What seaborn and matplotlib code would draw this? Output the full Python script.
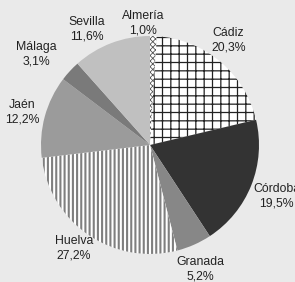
import numpy as np
import matplotlib
matplotlib.use("Agg")
import matplotlib.pyplot as plt
import seaborn as sns

provincias = ["Almería", "Cádiz", "Córdoba", "Granada", "Huelva", "Jaén", "Málaga", "Sevilla"]
porcentajes = [1.0, 20.3, 19.5, 5.2, 27.2, 12.2, 3.1, 11.6]

colores = ["white", "white", "#333333", "#878787", "white", "#9b9b9b", "#7a7a7a", "#c0c0c0"]
tramas = ["xxxxxx", "++", None, None, "||||", None, None, None]
color_trama = ["#555555", "#222222", None, None, "#7f7f7f", None, None, None]
grosor_trama = [0.6, 0.9, 0, 0, 1.5, 0, 0, 0]
# posición de las etiquetas (en radios, respecto al centro)
pos_etiqueta = [(-0.06, 1.12), (0.72, 0.96), (1.16, -0.47), (0.46, -1.14),
                (-0.70, -0.95), (-1.17, 0.30), (-1.04, 0.83), (-0.58, 1.06)]

sns.set_style("white")
plt.rcParams["font.family"] = ["Liberation Sans", "DejaVu Sans"]

fig = plt.figure(figsize=(2.95, 2.82), dpi=100)
fig.patch.set_facecolor("#eaeaea")
ax = fig.add_axes([0, 0, 1, 1])
ax.set_facecolor("#eaeaea")

wedges, _ = ax.pie(porcentajes, colors=colores, startangle=90, counterclock=False,
                   wedgeprops=dict(linewidth=0))

for w, h, hc, hl in zip(wedges, tramas, color_trama, grosor_trama):
    if h:
        w.set_hatch(h)
        w.set_edgecolor(hc)
        w.set_linewidth(0)
        if hasattr(w, "set_hatch_linewidth"):
            w.set_hatch_linewidth(hl)

for nombre, p, (x, y) in zip(provincias, porcentajes, pos_etiqueta):
    ax.text(x, y, f"{nombre}\n{p:.1f}%".replace(".", ","),
            ha="center", va="center", fontsize=8.8, color="#222222", linespacing=1.25)

ax.set_xlim(-150 / 109, 145 / 109)
ax.set_ylim(-137 / 109, 145 / 109)
ax.set_aspect("auto")
ax.axis("off")

fig.savefig("out.png", dpi=100, facecolor=fig.get_facecolor())
